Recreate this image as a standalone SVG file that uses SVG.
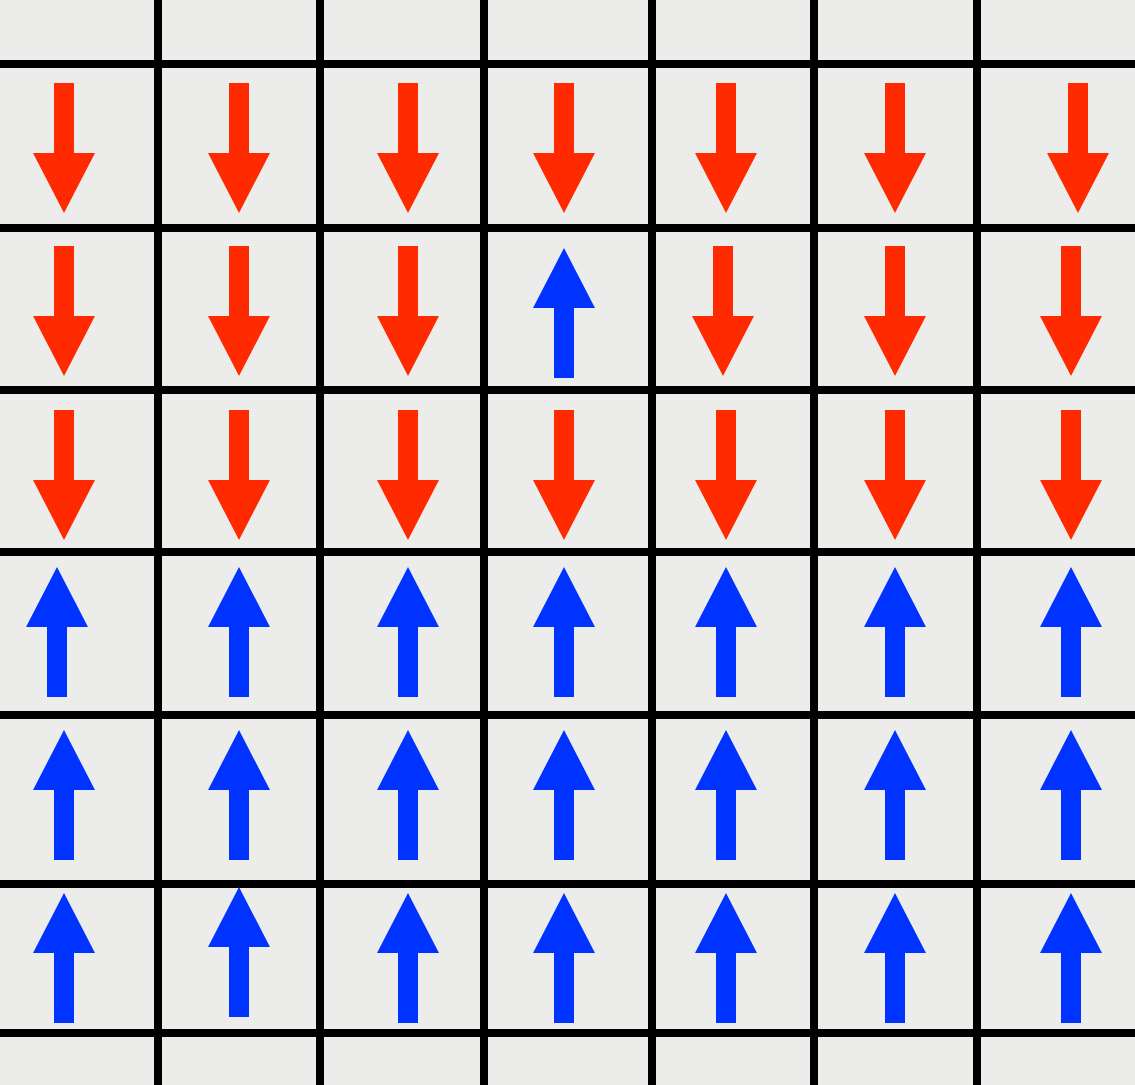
<svg xmlns="http://www.w3.org/2000/svg" xmlns:xlink="http://www.w3.org/1999/xlink" width="1135" height="1085" viewBox="0 0 1135 1085">
<style>
.grid line{stroke:#000;stroke-width:8}
.dn{fill:#ff2a00}
.up{fill:#0033ff}
</style>
<defs>
<path id="adn" d="M-10,0 H10 V70 H31 L0,130 L-31,70 H-10 Z"/>
<path id="aup" d="M-10,130 H10 V60 H31 L0,0 L-31,60 H-10 Z"/>
</defs>
<rect width="1135" height="1085" fill="#ececea"/>
<g id="connectors" class="grid">
<line x1="0" y1="64" x2="1135" y2="64"/>
<line x1="0" y1="228" x2="1135" y2="228"/>
<line x1="0" y1="390" x2="1135" y2="390"/>
<line x1="0" y1="552" x2="1135" y2="552"/>
<line x1="0" y1="715" x2="1135" y2="715"/>
<line x1="0" y1="884" x2="1135" y2="884"/>
<line x1="0" y1="1033" x2="1135" y2="1033"/>
<line x1="158" y1="0" x2="158" y2="1085"/>
<line x1="320" y1="0" x2="320" y2="1085"/>
<line x1="484" y1="0" x2="484" y2="1085"/>
<line x1="652" y1="0" x2="652" y2="1085"/>
<line x1="814" y1="0" x2="814" y2="1085"/>
<line x1="977" y1="0" x2="977" y2="1085"/>
</g>
<g id="row1" class="dn">
<g id="r1c1"><use xlink:href="#adn" x="64" y="83"/></g>
<g id="r1c2"><use xlink:href="#adn" x="239" y="83"/></g>
<g id="r1c3"><use xlink:href="#adn" x="408" y="83"/></g>
<g id="r1c4"><use xlink:href="#adn" x="564" y="83"/></g>
<g id="r1c5"><use xlink:href="#adn" x="726" y="83"/></g>
<g id="r1c6"><use xlink:href="#adn" x="895" y="83"/></g>
<g id="r1c7"><use xlink:href="#adn" x="1078" y="83"/></g>
</g>
<g id="row2">
<g id="r2c1" class="dn"><use xlink:href="#adn" x="64" y="246"/></g>
<g id="r2c2" class="dn"><use xlink:href="#adn" x="239" y="246"/></g>
<g id="r2c3" class="dn"><use xlink:href="#adn" x="408" y="246"/></g>
<g id="r2c4" class="up"><use xlink:href="#aup" x="564" y="248"/></g>
<g id="r2c5" class="dn"><use xlink:href="#adn" x="723" y="246"/></g>
<g id="r2c6" class="dn"><use xlink:href="#adn" x="895" y="246"/></g>
<g id="r2c7" class="dn"><use xlink:href="#adn" x="1071" y="246"/></g>
</g>
<g id="row3" class="dn">
<g id="r3c1"><use xlink:href="#adn" x="64" y="410"/></g>
<g id="r3c2"><use xlink:href="#adn" x="239" y="410"/></g>
<g id="r3c3"><use xlink:href="#adn" x="408" y="410"/></g>
<g id="r3c4"><use xlink:href="#adn" x="564" y="410"/></g>
<g id="r3c5"><use xlink:href="#adn" x="726" y="410"/></g>
<g id="r3c6"><use xlink:href="#adn" x="895" y="410"/></g>
<g id="r3c7"><use xlink:href="#adn" x="1071" y="410"/></g>
</g>
<g id="row4" class="up">
<g id="r4c1"><use xlink:href="#aup" x="57" y="567"/></g>
<g id="r4c2"><use xlink:href="#aup" x="239" y="567"/></g>
<g id="r4c3"><use xlink:href="#aup" x="408" y="567"/></g>
<g id="r4c4"><use xlink:href="#aup" x="564" y="567"/></g>
<g id="r4c5"><use xlink:href="#aup" x="726" y="567"/></g>
<g id="r4c6"><use xlink:href="#aup" x="895" y="567"/></g>
<g id="r4c7"><use xlink:href="#aup" x="1071" y="567"/></g>
</g>
<g id="row5" class="up">
<g id="r5c1"><use xlink:href="#aup" x="64" y="730"/></g>
<g id="r5c2"><use xlink:href="#aup" x="239" y="730"/></g>
<g id="r5c3"><use xlink:href="#aup" x="408" y="730"/></g>
<g id="r5c4"><use xlink:href="#aup" x="564" y="730"/></g>
<g id="r5c5"><use xlink:href="#aup" x="726" y="730"/></g>
<g id="r5c6"><use xlink:href="#aup" x="895" y="730"/></g>
<g id="r5c7"><use xlink:href="#aup" x="1071" y="730"/></g>
</g>
<g id="row6" class="up">
<g id="r6c1"><use xlink:href="#aup" x="64" y="893"/></g>
<g id="r6c2"><use xlink:href="#aup" x="239" y="887"/></g>
<g id="r6c3"><use xlink:href="#aup" x="408" y="893"/></g>
<g id="r6c4"><use xlink:href="#aup" x="564" y="893"/></g>
<g id="r6c5"><use xlink:href="#aup" x="726" y="893"/></g>
<g id="r6c6"><use xlink:href="#aup" x="895" y="893"/></g>
<g id="r6c7"><use xlink:href="#aup" x="1071" y="893"/></g>
</g>
</svg>
